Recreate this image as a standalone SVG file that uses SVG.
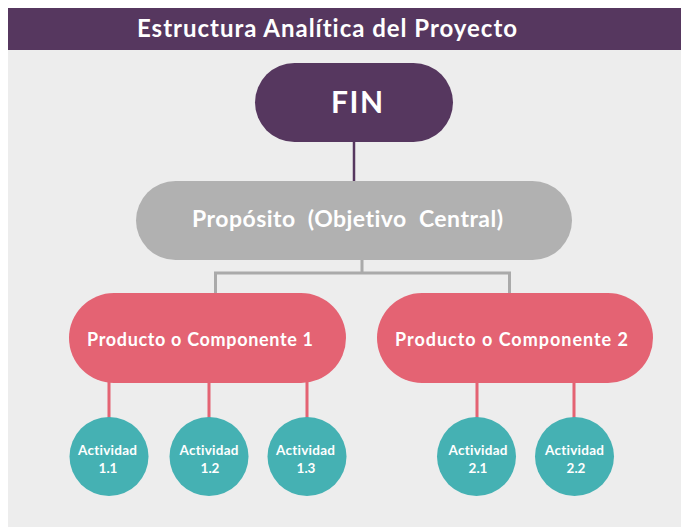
<svg xmlns="http://www.w3.org/2000/svg" width="681" height="527" viewBox="0 0 681 527">
<style>
text{font-family:Lato,"Open Sans","Liberation Sans",sans-serif;font-weight:700;fill:#ffffff;text-anchor:middle;font-variant-ligatures:none;font-feature-settings:"liga" 0,"dlig" 0}
.fin{fill:#56375F}
.prop{fill:#B1B1B1}
.prod{fill:#E46373}
.act{fill:#45B1B3}
.t-act{font-size:13.5px}
</style>
<rect x="0" y="0" width="681" height="527" fill="#ffffff"/>
<rect x="8" y="50" width="673" height="477" fill="#EDEDED"/>
<g id="header">
<rect x="8" y="8" width="673" height="42" fill="#56375F"/>
<text x="327" y="37" font-size="24" textLength="380" lengthAdjust="spacing">Estructura Analítica del Proyecto</text>
</g>
<g id="connectors" fill="none">
<line x1="354" y1="141" x2="354" y2="182" stroke="#56375F" stroke-width="2.5"/>
<path d="M362 259 V273 M215.5 295 V273 H509.5 V295" stroke="#AAAAAA" stroke-width="3"/>
<path d="M109 382 V418 M209 382 V418 M307 382 V418 M477 382 V418 M574 382 V418" stroke="#E46373" stroke-width="3"/>
</g>
<g id="fin">
<rect class="fin" x="255" y="63" width="198" height="79" rx="39.5"/>
<text x="357" y="113" font-size="30" textLength="52" lengthAdjust="spacing">FIN</text>
</g>
<g id="proposito">
<rect class="prop" x="136" y="181" width="436" height="79" rx="39.5"/>
<text x="347.5" y="227" font-size="23" textLength="311" lengthAdjust="spacing" xml:space="preserve">Propósito  (Objetivo  Central)</text>
</g>
<g id="producto1">
<rect class="prod" x="69" y="293" width="277" height="90" rx="45"/>
<text x="200" y="346" font-size="18" textLength="226" lengthAdjust="spacing">Producto o Componente 1</text>
</g>
<g id="producto2">
<rect class="prod" x="377" y="293" width="276" height="90" rx="45"/>
<text x="511.5" y="346" font-size="18" textLength="233" lengthAdjust="spacing">Producto o Componente 2</text>
</g>
<g id="actividad11">
<circle class="act" cx="109" cy="456.5" r="39.5"/>
<text class="t-act" x="107.5" y="455" textLength="59" lengthAdjust="spacing">Actividad</text>
<text class="t-act" x="108" y="473">1.1</text>
</g>
<g id="actividad12">
<circle class="act" cx="209" cy="456.5" r="39.5"/>
<text class="t-act" x="209" y="455" textLength="59" lengthAdjust="spacing">Actividad</text>
<text class="t-act" x="210" y="473">1.2</text>
</g>
<g id="actividad13">
<circle class="act" cx="307" cy="456.5" r="39.5"/>
<text class="t-act" x="305.5" y="455" textLength="59" lengthAdjust="spacing">Actividad</text>
<text class="t-act" x="306" y="473">1.3</text>
</g>
<g id="actividad21">
<circle class="act" cx="476.5" cy="456.5" r="39.5"/>
<text class="t-act" x="478" y="455" textLength="59" lengthAdjust="spacing">Actividad</text>
<text class="t-act" x="478" y="473">2.1</text>
</g>
<g id="actividad22">
<circle class="act" cx="574.5" cy="456.5" r="39.5"/>
<text class="t-act" x="574.5" y="455" textLength="59" lengthAdjust="spacing">Actividad</text>
<text class="t-act" x="576" y="473">2.2</text>
</g>
</svg>
